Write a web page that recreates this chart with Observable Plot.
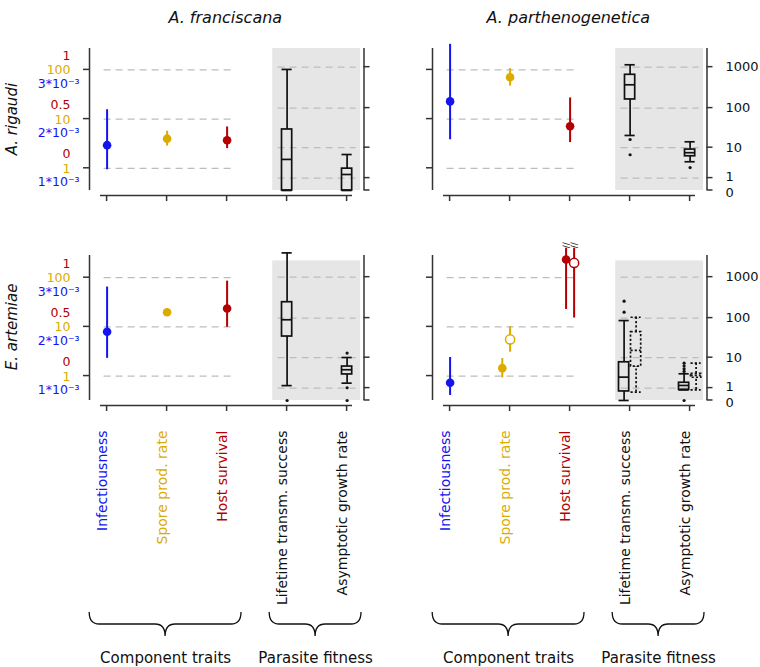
<!DOCTYPE html>
<html><head><meta charset="utf-8">
<script src="https://cdn.jsdelivr.net/npm/d3@7"></script>
<script src="https://cdn.jsdelivr.net/npm/@observablehq/plot@0.6"></script>
<style>
body{margin:0;background:#fff;}
#chart{position:relative;width:760px;height:667px;font-family:"DejaVu Sans",Verdana,sans-serif;}
#chart svg{position:absolute;overflow:visible;background:transparent;}
</style></head><body><div id="chart"></div>
<script>
// ---------- categories & labels ----------
const hosts = ["A. franciscana", "A. parthenogenetica"];
const parasites = ["A. rigaudi", "E. artemiae"];
const traits = ["Infectiousness", "Spore prod. rate", "Host survival"];
const fitnessMeasures = ["Lifetime transm. success", "Asymptotic growth rate"];
const braceGroups = [
  {label: "Component traits", first: 1, last: 3},
  {label: "Parasite fitness", first: 4, last: 5}
];
// left (component) axis ticks
const infectTicks = [1e-3, 2e-3, 3e-3];
const infectTickLabels = ["1*10\u207B\u00B3", "2*10\u207B\u00B3", "3*10\u207B\u00B3"];
const sporeTicks = [1, 10, 100];
const sporeTickLabels = ["1", "10", "100"];
const survivalTicks = [0, 0.5, 1];
const survivalTickLabels = ["0", "0.5", "1"];
// right (fitness) axis ticks
const fitnessTicks = [0, 1, 10, 100, 1000];
const fitnessTickLabels = ["0", "1", "10", "100", "1000"];
const fitnessGrid = [1, 10, 100, 1000];

// ---------- component traits: [trait, group, estimate, lower, upper] ----------
const rigaudiFranciscana = [
  ["Infectiousness", "filled", 1.47e-3, 0.97e-3, 2.19e-3],
  ["Spore prod. rate", "filled", 4.0, 2.83, 5.65],
  ["Host survival", "filled", 0.285, 0.20, 0.42]
];
const rigaudiParthenogenetica = [
  ["Infectiousness", "filled", 2.36e-3, 1.58e-3, 3.52e-3],
  ["Spore prod. rate", "filled", 70.8, 47, 106],
  ["Host survival", "filled", 0.427, 0.261, 0.715]
];
const artemiaeFranciscana = [
  ["Infectiousness", "filled", 1.90e-3, 1.36e-3, 2.81e-3],
  ["Spore prod. rate", "filled", 19.9, 17.3, 22.9],
  ["Host survival", "filled", 0.687, 0.496, 0.965]
];
const artemiaeParthenogenetica = [
  ["Infectiousness", "filled", 0.864e-3, 0.606e-3, 1.378e-3],
  ["Spore prod. rate", "filled", 1.45, 0.92, 2.28],
  ["Spore prod. rate", "open", 5.55, 3.05, 10.05],
  ["Host survival", "filled", 1.185, 0.677, 1.30],
  ["Host survival", "open", 1.15, 0.59, 1.30]
];

// ---------- fitness boxes: [measure, group, low whisker, q1, median, q3, high whisker] ----------
const rigaudiFranciscanaBoxes = [
  ["Lifetime transm. success", "solid", 0, 0, 4.7, 29.5, 880],
  ["Asymptotic growth rate", "solid", 0, 0, 1.45, 2.4, 6.5]
];
const rigaudiFranciscanaOutliers = [];
const rigaudiParthenogeneticaBoxes = [
  ["Lifetime transm. success", "solid", 20.8, 163, 372, 652, 1143],
  ["Asymptotic growth rate", "solid", 4.0, 5.8, 7.3, 8.9, 14.3]
];
const rigaudiParthenogeneticaOutliers = [
  ["Lifetime transm. success", "solid", 16.4],
  ["Lifetime transm. success", "solid", 6.4],
  ["Asymptotic growth rate", "solid", 2.6]
];
const artemiaeFranciscanaBoxes = [
  ["Lifetime transm. success", "solid", 1.3, 35, 91, 245, 3900],
  ["Asymptotic growth rate", "solid", 1.64, 3.3, 4.6, 5.7, 10.1]
];
const artemiaeFranciscanaOutliers = [
  ["Lifetime transm. success", "solid", 0],
  ["Asymptotic growth rate", "solid", 13.2],
  ["Asymptotic growth rate", "solid", 1.04],
  ["Asymptotic growth rate", "solid", 0]
];
const artemiaeParthenogeneticaBoxes = [
  ["Lifetime transm. success", "solid", 0, 0.66, 2.7, 7.5, 87],
  ["Lifetime transm. success", "dotted", 0.6, 5.7, 15.5, 45, 105],
  ["Asymptotic growth rate", "solid", 0.8, 0.82, 1.32, 1.7, 3.46],
  ["Asymptotic growth rate", "dotted", 0.82, 2.57, 3.06, 3.46, 7.1]
];
const artemiaeParthenogeneticaOutliers = [
  ["Lifetime transm. success", "solid", 260],
  ["Lifetime transm. success", "solid", 140],
  ["Asymptotic growth rate", "solid", 7.1],
  ["Asymptotic growth rate", "solid", 5.9],
  ["Asymptotic growth rate", "solid", 4.9],
  ["Asymptotic growth rate", "solid", 4.1],
  ["Asymptotic growth rate", "solid", 0]
];

// ---------- styling & layout ----------
const traitColors = ["#1414ee", "#dcab00", "#b40000"];
const axisColor = "#333";
const FONT = "DejaVu Sans, Verdana, sans-serif";
const toU = {
  "Infectiousness": v => v * 1000 - 1,
  "Spore prod. rate": v => Math.log10(v),
  "Host survival": v => 2 * v
};
const FIT_B = 0.8354;
const rows = [
  {top: 0, height: 205, mt: 48, mb: 10, yDomain: [-0.553, 2.435], fitA: -0.451, grayTop: 2.435},
  {top: 210, height: 457, mt: 45, mb: 262, yDomain: [-0.598, 2.451], fitA: -0.496, grayTop: 2.34}
];
const cols = [
  {left: 0, width: 380, ml: 100, mr: 28},
  {left: 343, width: 417, ml: 100, mr: 65}
];
const xDomain = [0.89, 5.09];
const pointDodge = {
  "Spore prod. rate": {filled: -0.13, open: 0},
  "Host survival": {filled: -0.067, open: 0.067}
};
const boxDodge = {solid: -0.1, dotted: 0.1};
const HW = 0.085;

const chart = document.getElementById("chart");

// axis tick marks drawn through the plot's scales
function ticks(values, side, offset, size) {
  return (index, scales, vals, dims) => {
    const g = d3.create("svg:g").attr("stroke", axisColor).attr("stroke-width", 1.5);
    const {width, height, marginLeft, marginRight, marginBottom} = dims;
    for (const v of values) {
      if (side === "bottom") {
        const x = scales.x(v), y = height - marginBottom;
        g.append("line").attr("x1", x).attr("x2", x).attr("y1", y).attr("y2", y + size);
      } else {
        const y = scales.y(v);
        const x = side === "left" ? marginLeft + offset : width - marginRight + offset;
        const s = side === "left" ? -size : size;
        g.append("line").attr("x1", x).attr("x2", x + s).attr("y1", y).attr("y2", y);
      }
    }
    return g.node();
  };
}

function panel(row, col, comp, boxesRaw, outRaw) {
  const R = rows[row], C = cols[col];
  const fu = v => R.fitA + FIT_B * Math.log10(v + 1);
  const pts = comp.map(([trait, group, est, lo, hi]) => ({trait, group, est, lo, hi}));
  const hasOpen = new Set(pts.filter(d => d.group === "open").map(d => d.trait));
  const xP = d => traits.indexOf(d.trait) + 1 + (hasOpen.has(d.trait) ? pointDodge[d.trait][d.group] : 0);
  const colP = d => traitColors[traits.indexOf(d.trait)];
  const boxes = boxesRaw.map(([m, group, lo, q1, med, q3, hi]) => ({m, group, lo, q1, med, q3, hi}));
  const twoGroups = new Set(boxes.map(b => b.group)).size > 1;
  const xB = d => fitnessMeasures.indexOf(d.m) + 4 + (twoGroups ? boxDodge[d.group] : 0);
  const outs = outRaw.map(([m, group, v]) => ({m, group, v}));

  const boxMarks = (data, dash) => {
    const o = {stroke: "#111", strokeWidth: 1.7, strokeDasharray: dash};
    return [
      Plot.ruleX(data, {x: xB, y1: d => fu(d.lo), y2: d => fu(d.q1), ...o}),
      Plot.ruleX(data, {x: xB, y1: d => fu(d.q3), y2: d => fu(d.hi), ...o}),
      Plot.rect(data, {x1: d => xB(d) - HW, x2: d => xB(d) + HW, y1: d => fu(d.q1), y2: d => fu(d.q3), fill: "none", ...o}),
      Plot.ruleY(data, {y: d => fu(d.med), x1: d => xB(d) - HW, x2: d => xB(d) + HW, ...o}),
      Plot.ruleY(data, {y: d => fu(d.lo), x1: d => xB(d) - HW, x2: d => xB(d) + HW, ...o}),
      Plot.ruleY(data, {y: d => fu(d.hi), x1: d => xB(d) - HW, x2: d => xB(d) + HW, ...o})
    ];
  };

  const marks = [
    Plot.rect([0], {x1: () => 3.76, x2: () => 5.225, y1: () => fu(0), y2: () => R.grayTop, fill: "#e6e6e6"}),
    Plot.ruleY([0, 1, 2], {x1: () => 0.95, x2: () => 3.1, stroke: "#bdbdbd", strokeWidth: 1.2, strokeDasharray: "7,5"}),
    Plot.ruleY(fitnessGrid, {y: d => fu(d), x1: () => 3.85, x2: () => 5.15, stroke: "#bdbdbd", strokeWidth: 1.2, strokeDasharray: "7,5"}),
    // x axis
    Plot.ruleY([R.yDomain[0]], {stroke: axisColor, strokeWidth: 1.5}),
    ticks([1, 2, 3, 4, 5], "bottom", 0, 6),
    // left axis
    Plot.ruleX([xDomain[0]], {y1: () => fu(0), y2: () => R.yDomain[1], dx: -11, stroke: axisColor, strokeWidth: 1.5}),
    ticks([0, 1, 2], "left", -11, 6),
    // right axis
    Plot.ruleX([xDomain[1]], {y1: () => fu(0), y2: () => R.yDomain[1], dx: 11.5, stroke: axisColor, strokeWidth: 1.5}),
    ticks(fitnessTicks.map(fu), "right", 11.5, 6),
    // boxes
    ...boxMarks(boxes.filter(b => b.group === "solid"), null),
    ...boxMarks(boxes.filter(b => b.group === "dotted"), "2.2,2"),
    Plot.dot(outs, {x: xB, y: d => fu(d.v), r: 1.6, fill: "#111", stroke: "none"}),
    // component traits
    Plot.ruleX(pts, {x: xP, y1: d => toU[d.trait](d.lo), y2: d => toU[d.trait](d.hi), stroke: colP, strokeWidth: 2}),
    Plot.dot(pts.filter(d => d.group === "filled"), {x: xP, y: d => toU[d.trait](d.est), r: 4.3, fill: colP, stroke: "none"}),
    Plot.dot(pts.filter(d => d.group === "open"), {x: xP, y: d => toU[d.trait](d.est), r: 4.6, fill: "white", stroke: colP, strokeWidth: 1.5}),
    // axis breaks for survival above 1
    Plot.text(pts.filter(d => d.trait === "Host survival" && d.hi > 1), {x: xP, y: d => toU[d.trait](d.hi), text: () => "//", rotate: 90, dy: -3, fontSize: 9, fill: "#222"})
  ];

  if (col === 0) {
    const lab = (tk, labels, trait, color, dx, dy) =>
      Plot.text(tk, {y: d => toU[trait](d), text: (d, i) => labels[i], frameAnchor: "left", dx, dy, textAnchor: "end", fill: color, fontSize: 12.5, fontFamily: FONT});
    marks.push(
      lab(survivalTicks, survivalTickLabels, "Host survival", traitColors[2], -30, -14),
      lab(sporeTicks, sporeTickLabels, "Spore prod. rate", traitColors[1], -30, 0.5),
      lab(infectTicks, infectTickLabels, "Infectiousness", traitColors[0], -21, 14),
      Plot.text([parasites[row]], {frameAnchor: "left", y: () => 1, dx: -88, rotate: -90, textAnchor: "middle", fontStyle: "italic", fontSize: 15, fontFamily: FONT, fill: "#111"})
    );
  } else {
    const fitLab = (keep, dy) => Plot.text(fitnessTicks.filter(keep), {
      y: d => fu(d), text: d => fitnessTickLabels[fitnessTicks.indexOf(d)],
      frameAnchor: "right", dx: 30, dy, textAnchor: "start", fontSize: 13, fontFamily: FONT, fill: "#111"});
    marks.push(
      fitLab(d => d >= 10, 0),
      fitLab(d => d === 1, -1.5),
      fitLab(d => d === 0, 2)
    );
  }
  if (row === 0) {
    marks.push(Plot.text([hosts[col]], {frameAnchor: "top", x: () => 2.97, dy: -37, textAnchor: "middle", fontStyle: "italic", fontSize: 16, fontFamily: FONT, fill: "#111"}));
  } else {
    marks.push(
      Plot.text(traits, {x: (d, i) => i + 1, frameAnchor: "bottom", dy: 25, rotate: -90, textAnchor: "end", fill: (d, i) => traitColors[i], fontSize: 14, fontFamily: FONT}),
      Plot.text(fitnessMeasures, {x: (d, i) => i + 4, frameAnchor: "bottom", dy: 25, rotate: -90, textAnchor: "end", fill: "#111", fontSize: 14, fontFamily: FONT}),
      (index, scales, values, dims) => {
        const yBase = dims.height - dims.marginBottom;
        const yTop = yBase + 207, yMid = yBase + 219, yTip = yBase + 231, r = 10;
        const g = d3.create("svg:g").attr("fill", "none").attr("stroke", "#111").attr("stroke-width", 1.3);
        for (const b of braceGroups) {
          const x1 = scales.x(b.first - 0.29), x2 = scales.x(b.last + 0.24), xm = (x1 + x2) / 2;
          g.append("path").attr("d",
            `M${x1},${yTop}Q${x1},${yMid} ${x1 + r},${yMid}L${xm - r},${yMid}Q${xm},${yMid} ${xm},${yTip}` +
            `Q${xm},${yMid} ${xm + r},${yMid}L${x2 - r},${yMid}Q${x2},${yMid} ${x2},${yTop}`);
        }
        return g.node();
      },
      Plot.text(braceGroups, {x: d => (d.first - 0.29 + d.last + 0.24) / 2, text: "label", frameAnchor: "bottom", dy: 257, textAnchor: "middle", fontSize: 15, fontFamily: FONT, fill: "#111"})
    );
  }

  const svg = Plot.plot({
    width: C.width, height: R.height,
    marginLeft: C.ml, marginRight: C.mr, marginTop: R.mt, marginBottom: R.mb,
    x: {domain: xDomain, axis: null},
    y: {domain: R.yDomain, axis: null},
    color: {type: "identity"},
    style: {fontFamily: FONT, fontSize: "13px", background: "transparent", overflow: "visible"},
    marks
  });
  svg.style.left = C.left + "px";
  svg.style.top = R.top + "px";
  chart.appendChild(svg);
}

panel(0, 0, rigaudiFranciscana, rigaudiFranciscanaBoxes, rigaudiFranciscanaOutliers);
panel(0, 1, rigaudiParthenogenetica, rigaudiParthenogeneticaBoxes, rigaudiParthenogeneticaOutliers);
panel(1, 0, artemiaeFranciscana, artemiaeFranciscanaBoxes, artemiaeFranciscanaOutliers);
panel(1, 1, artemiaeParthenogenetica, artemiaeParthenogeneticaBoxes, artemiaeParthenogeneticaOutliers);
</script></body></html>
